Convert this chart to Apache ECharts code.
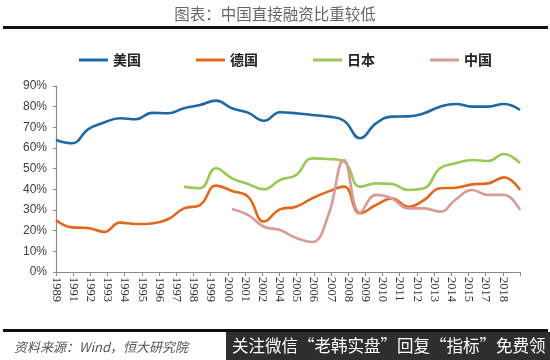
<!DOCTYPE html>
<html><head><meta charset="utf-8">
<script src="https://cdn.jsdelivr.net/npm/echarts@6/dist/echarts.min.js"></script>
<style>html,body{margin:0;padding:0;background:#fff}#c{width:550px;height:360px}</style>
</head><body><div id="c"></div>
<script>
// Data years (1989-2018)
const years = ["1989","1990","1991","1992","1993","1994","1995","1996","1997","1998","1999","2000","2001","2002","2003","2004","2005","2006","2007","2008","2009","2010","2011","2012","2013","2014","2015","2016","2017","2018"];
// Tick labels as printed on the original axis
const tickLabels = ["1989","1991","1992","1993","1994","1995","1996","1997","1998","1999","2000","2001","2002","2004","2005","2006","2007","2008","2009","2010","2011","2012","2013","2014","2015","2017","2018",""];
const seriesNames = ["美国","德国","日本","中国"];
const usa = [63.9,62.3,69,72.3,74.4,73.9,77,76.8,79.2,80.8,82.9,79.2,77.1,73.2,77.3,76.8,76,75.2,73.2,64.7,71.9,75.2,75.3,76.8,80,81.3,80,80,81.3,78.4];
const germany = [25.2,21.6,21.3,19.4,23.9,23.2,23.5,25.5,30.8,32.4,41.8,39.2,36.5,24.4,30.3,31.6,35.6,38.9,41.3,28.4,32.4,35.6,31.6,34.8,40.5,40.8,42.4,42.9,45.8,39.7];
const japan = [null,null,null,null,null,null,null,null,41.3,40.5,50.2,45.3,42.6,40,44.5,46.9,55,54.7,53.4,41.3,42.9,42.6,39.7,40.5,50.2,52.6,54.2,53.7,57.1,52.6];
const china = [null,null,null,null,null,null,null,null,null,null,null,30.5,27.6,21.9,20.3,16.5,14.5,27,54.2,28.7,37.3,35.6,30.8,30.8,29.2,35.2,39.7,37.3,37.3,30];
const colors = ["#1d68a6","#e2691c","#97c957","#d99a98"];

const chart = echarts.init(document.getElementById('c'), null, {renderer:'canvas'});
const mk = (name, data, i) => ({
  name, type:'line', data, xAxisIndex:0, smooth:0.45, showSymbol:false, symbol:'none',
  connectNulls:false, lineStyle:{width:2.6, color:colors[i]}, itemStyle:{color:colors[i]}
});
chart.setOption({
  animation:false,
  grid:{left:56, right:30, top:86, bottom:88, containLabel:false},
  legend:{data:seriesNames, left:74, top:48, icon:'rect', itemWidth:29, itemHeight:3, itemGap:55,
    textStyle:{fontSize:14, fontWeight:'bold', color:'#222', fontFamily:'Noto Sans CJK SC'}},
  xAxis:[
    {type:'category', data:years, boundaryGap:false, show:false},
    {type:'category', data:tickLabels, boundaryGap:false, position:'bottom',
     axisLine:{lineStyle:{color:'#8a8a8a', width:1.2}},
     axisTick:{show:true, interval:0, length:4, lineStyle:{color:'#8a8a8a'}},
     axisLabel:{interval:0, rotate:-90, margin:5, fontSize:12.5, color:'#333', fontFamily:'Liberation Serif'},
     splitLine:{show:false}}
  ],
  yAxis:{type:'value', min:0, max:90, interval:10,
    axisLine:{show:true, lineStyle:{color:'#8a8a8a', width:1.2}},
    axisTick:{show:true, length:3, lineStyle:{color:'#8a8a8a'}},
    axisLabel:{formatter:'{value}%', fontSize:12, color:'#404040', margin:9, fontFamily:'Liberation Sans'},
    splitLine:{show:false}},
  series:[mk(seriesNames[0],usa,0), mk(seriesNames[1],germany,1), mk(seriesNames[2],japan,2), mk(seriesNames[3],china,3)],
  graphic:[
    {type:'text', left:'center', top:6, style:{text:'图表：中国直接融资比重较低', fontSize:15.5, fill:'#666', fontFamily:'Noto Sans CJK SC'}},
    {type:'rect', shape:{x:3, y:26, width:545, height:3}, style:{fill:'#111'}},
    {type:'rect', shape:{x:3, y:329, width:545, height:3}, style:{fill:'#111'}},
    {type:'text', left:14, top:341, style:{text:'资料来源：Wind，恒大研究院', fontSize:13, fontStyle:'italic', fill:'#555', fontFamily:'Noto Sans CJK SC'}},
    {type:'rect', shape:{x:226, y:332, width:324, height:28}, style:{fill:'#2e2e2e'}},
    {type:'text', left:232, top:337, style:{text:'关注微信“老韩实盘”回复“指标”免费领', fontSize:16.5, fill:'#fff', fontFamily:'Noto Sans CJK SC'}}
  ]
});
</script></body></html>
